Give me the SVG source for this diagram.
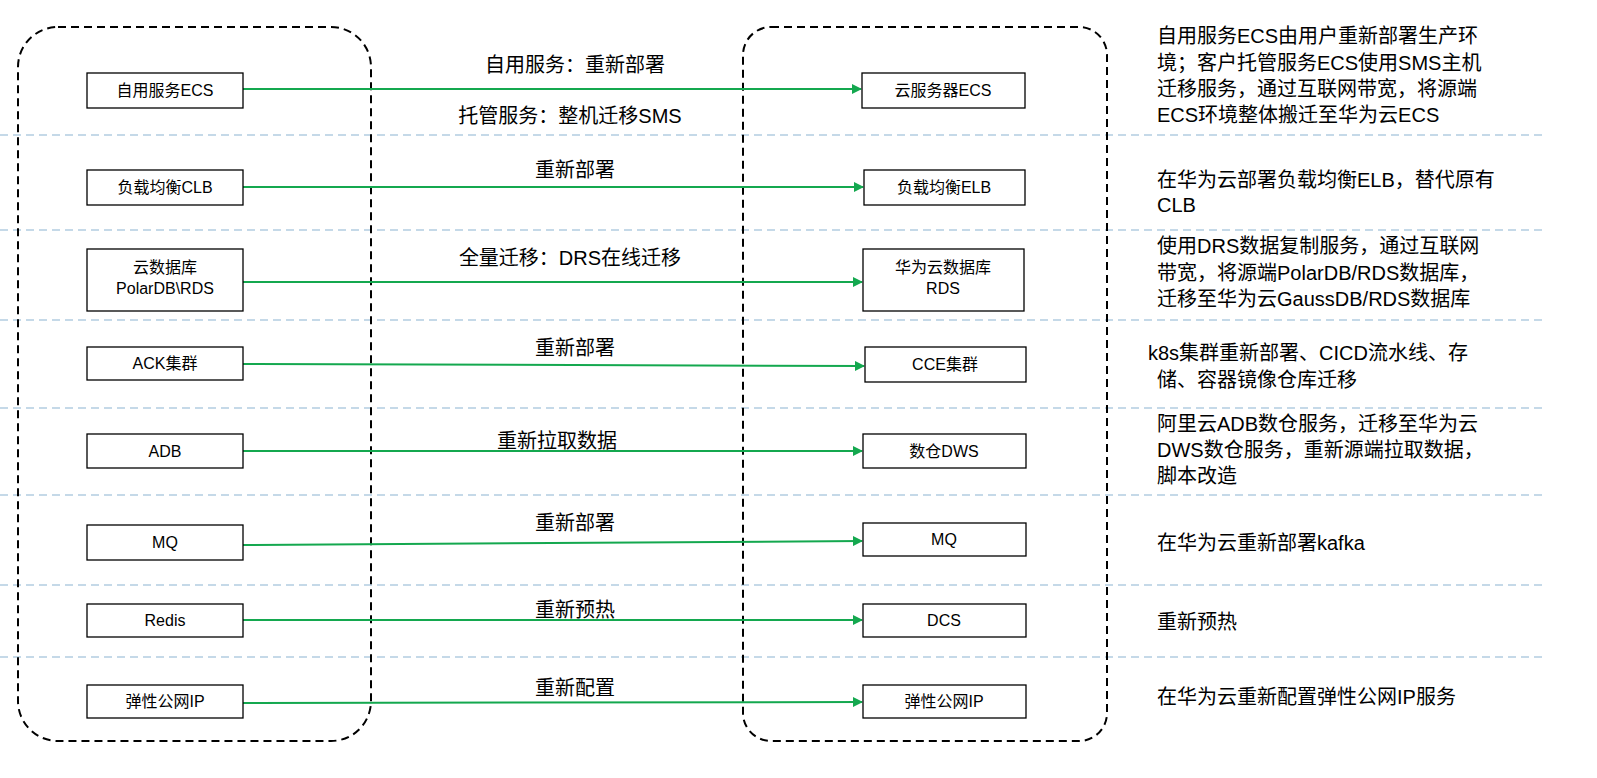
<svg xmlns="http://www.w3.org/2000/svg" width="1597" height="778" viewBox="0 0 1597 778">
<defs>
<marker id="ah" markerWidth="10" markerHeight="10" refX="9" refY="5" orient="auto" markerUnits="userSpaceOnUse"><path d="M0,0 L10,5 L0,10 Z" fill="#14a84f"/></marker>
<style>
.cont{fill:none;stroke:#000;stroke-width:2;stroke-dasharray:8,5}
.sep{stroke:#c5d9e8;stroke-width:2;stroke-dasharray:8,5}
.box{fill:#fff;stroke:#000;stroke-width:1.3}
.nt{font-family:"Liberation Sans","Noto Sans CJK SC",sans-serif;font-size:16px;text-anchor:middle;fill:#000}
.lb{font-family:"Liberation Sans","Noto Sans CJK SC",sans-serif;font-size:20px;text-anchor:middle;fill:#000}
.ds{font-family:"Liberation Sans","Noto Sans CJK SC",sans-serif;font-size:20px;fill:#000}
.arr{stroke:#14a84f;stroke-width:2;fill:none;marker-end:url(#ah)}
</style>
</defs>
<rect width="1597" height="778" fill="#fff"/>
<g id="separators">
<line class="sep" x1="0" y1="135" x2="1545" y2="135"/>
<line class="sep" x1="0" y1="230" x2="1545" y2="230"/>
<line class="sep" x1="0" y1="320" x2="1545" y2="320"/>
<line class="sep" x1="0" y1="408" x2="1545" y2="408"/>
<line class="sep" x1="0" y1="495" x2="1545" y2="495"/>
<line class="sep" x1="0" y1="585" x2="1545" y2="585"/>
<line class="sep" x1="0" y1="657" x2="1545" y2="657"/>
</g>
<g id="containers">
<rect class="cont" x="18" y="27" width="353" height="714" rx="40"/>
<rect class="cont" x="743" y="27" width="364" height="714" rx="28"/>
</g>
<g id="connectors">
<line class="arr" x1="243" y1="89" x2="861" y2="89"/>
<line class="arr" x1="243" y1="187" x2="863" y2="187"/>
<line class="arr" x1="243" y1="282" x2="862" y2="282"/>
<line class="arr" x1="243" y1="364" x2="864" y2="366"/>
<line class="arr" x1="243" y1="451" x2="862" y2="451"/>
<line class="arr" x1="243" y1="545" x2="862" y2="541"/>
<line class="arr" x1="243" y1="620" x2="862" y2="620"/>
<line class="arr" x1="243" y1="703" x2="862" y2="702"/>
<text class="lb" x="575" y="72">自用服务：重新部署</text>
<text class="lb" x="570" y="123">托管服务：整机迁移SMS</text>
<text class="lb" x="575" y="177">重新部署</text>
<text class="lb" x="570" y="265">全量迁移：DRS在线迁移</text>
<text class="lb" x="575" y="355">重新部署</text>
<text class="lb" x="557" y="448">重新拉取数据</text>
<text class="lb" x="575" y="530">重新部署</text>
<text class="lb" x="575" y="617">重新预热</text>
<text class="lb" x="575" y="695">重新配置</text>
</g>
<g id="n1"><rect class="box" x="87" y="73" width="156" height="35"/><text class="nt" x="165" y="96">自用服务ECS</text></g>
<g id="n2"><rect class="box" x="87" y="170" width="156" height="35"/><text class="nt" x="165" y="193">负载均衡CLB</text></g>
<g id="n3"><rect class="box" x="87" y="249" width="156" height="62"/><text class="nt" x="165" y="273">云数据库</text><text class="nt" x="165" y="294">PolarDB\RDS</text></g>
<g id="n4"><rect class="box" x="87" y="347" width="156" height="33"/><text class="nt" x="165" y="369">ACK集群</text></g>
<g id="n5"><rect class="box" x="87" y="434" width="156" height="34"/><text class="nt" x="165" y="457">ADB</text></g>
<g id="n6"><rect class="box" x="87" y="525" width="156" height="35"/><text class="nt" x="165" y="548">MQ</text></g>
<g id="n7"><rect class="box" x="87" y="604" width="156" height="33"/><text class="nt" x="165" y="626">Redis</text></g>
<g id="n8"><rect class="box" x="87" y="685" width="156" height="33"/><text class="nt" x="165" y="707">弹性公网IP</text></g>
<g id="m1"><rect class="box" x="862" y="73" width="163" height="35"/><text class="nt" x="943" y="96">云服务器ECS</text></g>
<g id="m2"><rect class="box" x="864" y="170" width="161" height="35"/><text class="nt" x="944" y="193">负载均衡ELB</text></g>
<g id="m3"><rect class="box" x="863" y="249" width="161" height="62"/><text class="nt" x="943" y="273">华为云数据库</text><text class="nt" x="943" y="294">RDS</text></g>
<g id="m4"><rect class="box" x="865" y="347" width="161" height="35"/><text class="nt" x="945" y="370">CCE集群</text></g>
<g id="m5"><rect class="box" x="863" y="434" width="163" height="34"/><text class="nt" x="944" y="457">数仓DWS</text></g>
<g id="m6"><rect class="box" x="863" y="523" width="163" height="33"/><text class="nt" x="944" y="545">MQ</text></g>
<g id="m7"><rect class="box" x="863" y="604" width="163" height="33"/><text class="nt" x="944" y="626">DCS</text></g>
<g id="m8"><rect class="box" x="863" y="685" width="163" height="33"/><text class="nt" x="944" y="707">弹性公网IP</text></g>
<g id="notes">
<text class="ds" x="1157" y="43">自用服务ECS由用户重新部署生产环</text>
<text class="ds" x="1157" y="70">境；客户托管服务ECS使用SMS主机</text>
<text class="ds" x="1157" y="96">迁移服务，通过互联网带宽，将源端</text>
<text class="ds" x="1157" y="122">ECS环境整体搬迁至华为云ECS</text>
<text class="ds" x="1157" y="187">在华为云部署负载均衡ELB，替代原有</text>
<text class="ds" x="1157" y="212">CLB</text>
<text class="ds" x="1157" y="253">使用DRS数据复制服务，通过互联网</text>
<text class="ds" x="1157" y="280">带宽，将源端PolarDB/RDS数据库，</text>
<text class="ds" x="1157" y="306">迁移至华为云GaussDB/RDS数据库</text>
<text class="ds" x="1148" y="360">k8s集群重新部署、CICD流水线、存</text>
<text class="ds" x="1157" y="387">储、容器镜像仓库迁移</text>
<text class="ds" x="1157" y="431">阿里云ADB数仓服务，迁移至华为云</text>
<text class="ds" x="1157" y="457">DWS数仓服务，重新源端拉取数据，</text>
<text class="ds" x="1157" y="483">脚本改造</text>
<text class="ds" x="1157" y="550">在华为云重新部署kafka</text>
<text class="ds" x="1157" y="629">重新预热</text>
<text class="ds" x="1157" y="704">在华为云重新配置弹性公网IP服务</text>
</g>
</svg>
